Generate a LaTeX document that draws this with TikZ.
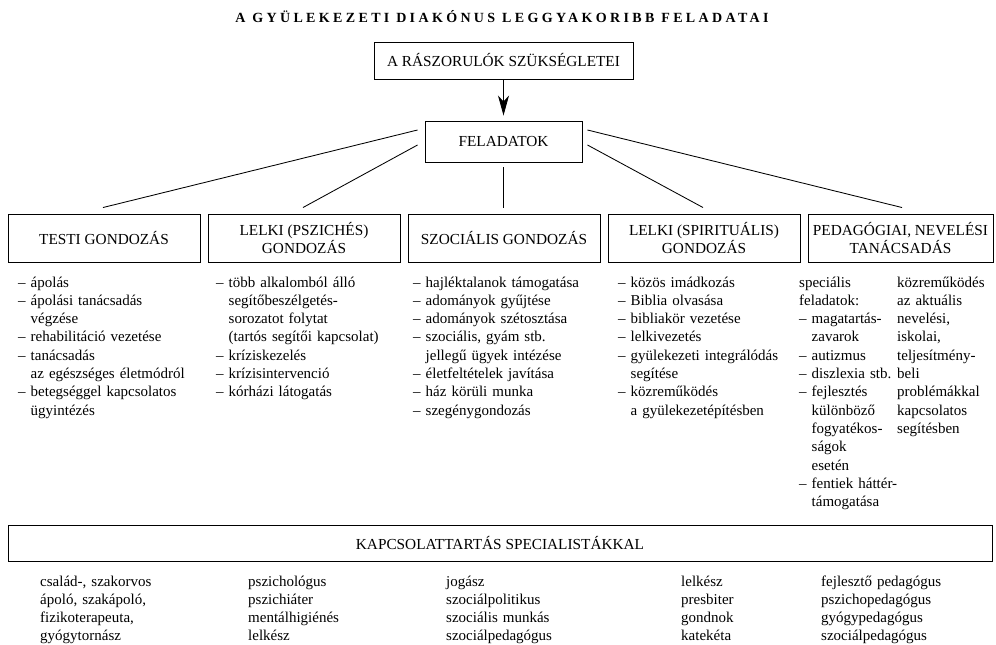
\documentclass[tikz,border=0pt]{standalone}
\usepackage{fontspec}
\setmainfont{Liberation Serif}
\newfontfamily\titlefam[LetterSpace=24]{Liberation Serif}
\usetikzlibrary{arrows.meta,calc}
\newcommand\ind{\hphantom{–\ }}
\begin{document}
\begin{tikzpicture}[x=1pt,y=-1pt,
  box/.style={draw, line width=0.95pt, inner sep=2pt, align=center, font=\fontsize{15.3}{18}\selectfont},
  grp/.style={box, minimum width=192pt, minimum height=48pt},
  lst/.style={anchor=base west, inner sep=0pt, text width=220pt, align=left, font=\fontsize{15}{18.3}\selectfont},
  bot/.style={lst, font=\fontsize{15}{18}\selectfont},
  conn/.style={line width=0.85pt}]
\useasboundingbox (0,0) rectangle (996,645);

\node[anchor=base, inner sep=0pt] (title) at (502,22)
  {\titlefam\bfseries\fontsize{14}{16}\selectfont A GYÜLEKEZETI DIAKÓNUS LEGGYAKORIBB FELADATAI};

\node[box, minimum width=259pt, minimum height=37pt] (need) at (503.5,60.5) {A RÁSZORULÓK SZÜKSÉGLETEI};
\node[box, minimum width=157pt, minimum height=41pt] (fel) at (503.5,141.5) {FELADATOK};
\draw[conn, -{Stealth[length=20pt,width=11pt,inset=6pt]}, shorten >=5pt] (need) -- (fel);

\node[grp] (testi) at (104,238) {TESTI GONDOZÁS};
\node[grp] (pszich) at (304,238) {LELKI (PSZICHÉS)\\GONDOZÁS};
\node[grp] (szoc) at (504,238) {SZOCIÁLIS GONDOZÁS};
\node[grp] (spir) at (704,238) {LELKI (SPIRITUÁLIS)\\GONDOZÁS};
\node[grp, minimum width=185pt] (ped) at (900.5,238) {PEDAGÓGIAI, NEVELÉSI\\TANÁCSADÁS};

\draw[conn] ([shift={(-7,-11.5)}]fel.west) -- ([shift={(-1,-6)}]testi.north);
\draw[conn] ([shift={(-7,3.5)}]fel.west) -- ([shift={(-1,-6)}]pszich.north);
\draw[conn] ([shift={(0,5)}]fel.south) -- ([shift={(-0.5,-6)}]szoc.north);
\draw[conn] ([shift={(5,3.5)}]fel.east) -- ([shift={(-1,-6)}]spir.north);
\draw[conn] ([shift={(5,-11.5)}]fel.east) -- ([shift={(1.5,-6)}]ped.north);

\node[lst] (l1) at (18,287) {– ápolás\\
– ápolási tanácsadás\\
\ind végzése\\
– rehabilitáció vezetése\\
– tanácsadás\\
\ind az egészséges életmódról\\
– betegséggel kapcsolatos\\
\ind ügyintézés};

\node[lst] (l2) at (216,287) {– több alkalomból álló\\
\ind segítőbeszélgetés-\\
\ind sorozatot folytat\\
\ind (tartós segítői kapcsolat)\\
– kríziskezelés\\
– krízisintervenció\\
– kórházi látogatás};

\node[lst] (l3) at (413,287) {– hajléktalanok támogatása\\
– adományok gyűjtése\\
– adományok szétosztása\\
– szociális, gyám stb.\\
\ind jellegű ügyek intézése\\
– életfeltételek javítása\\
– ház körüli munka\\
– szegénygondozás};

\node[lst] (l4) at (618,287) {– közös imádkozás\\
– Biblia olvasása\\
– bibliakör vezetése\\
– lelkivezetés\\
– gyülekezeti integrálódás\\
\ind segítése\\
– közreműködés\\
\ind a gyülekezetépítésben};

\node[lst] (l5a) at (799,287) {speciális\\
feladatok:\\
– magatartás-\\
\ind zavarok\\
– autizmus\\
– diszlexia stb.\\
– fejlesztés\\
\ind különböző\\
\ind fogyatékos-\\
\ind ságok\\
\ind esetén\\
– fentiek háttér-\\
\ind támogatása};

\node[lst] (l5b) at (897,287) {közreműködés\\
az aktuális\\
nevelési,\\
iskolai,\\
teljesítmény-\\
beli\\
problémákkal\\
kapcsolatos\\
segítésben};

\node[box, minimum width=984pt, minimum height=36pt] (kapcs) at (500,543) {KAPCSOLATTARTÁS SPECIALISTÁKKAL};

\node[bot] (s1) at (40,586) {család-, szakorvos\\ ápoló, szakápoló,\\ fizikoterapeuta,\\ gyógytornász};
\node[bot] (s2) at (248,586) {pszichológus\\ pszichiáter\\ mentálhigiénés\\ lelkész};
\node[bot] (s3) at (446,586) {jogász\\ szociálpolitikus\\ szociális munkás\\ szociálpedagógus};
\node[bot] (s4) at (681,586) {lelkész\\ presbiter\\ gondnok\\ katekéta};
\node[bot] (s5) at (821,586) {fejlesztő pedagógus\\ pszichopedagógus\\ gyógypedagógus\\ szociálpedagógus};
\end{tikzpicture}
\end{document}
